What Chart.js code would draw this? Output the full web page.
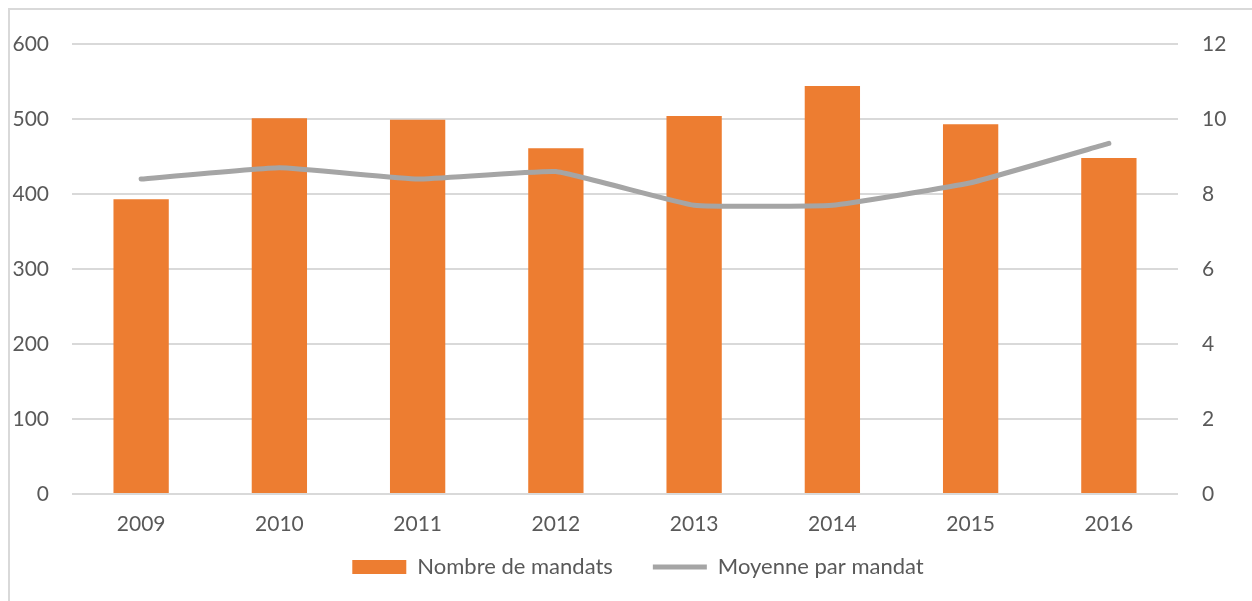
<!DOCTYPE html>
<html>
<head>
<meta charset="utf-8">
<title>Nombre de mandats</title>
<script src="https://cdn.jsdelivr.net/npm/chart.js"></script>
<style>
  html, body { margin: 0; padding: 0; background: #fff; overflow: hidden; }
  .frame { position: absolute; left: 8px; top: 8px; width: 1400px; height: 800px; border: 2px solid #d9d9d9; box-sizing: border-box; }
  .wrap { position: absolute; left: 0; top: 0; width: 1252px; height: 601px; }
</style>
</head>
<body>
<div class="frame"></div>
<div class="wrap"><canvas id="chart"></canvas></div>
<script>
// données
const annees = ['2009', '2010', '2011', '2012', '2013', '2014', '2015', '2016'];
const nombreMandats = [393, 501, 499, 461, 504, 544, 493, 448];
const moyenneParMandat = [8.4, 8.7, 8.4, 8.6, 7.7, 7.7, 8.3, 9.35];

const police = "Lato, 'Open Sans', sans-serif";
const gris = '#595959';
const padLegende = 40;

// place la légende plus haut que ce que calcule la mise en page
const legendeEnPlace = {
  id: 'legendeEnPlace',
  afterLayout(chart) {
    const lg = chart.legend;
    const h = lg.bottom - lg.top;
    lg.top = 567 - 11 - padLegende;
    lg.bottom = lg.top + h;
    lg.left += 12;
    lg.right += 12;
  }
};

const ctx = document.getElementById('chart').getContext('2d');
const chart = new Chart(ctx, {
  type: 'bar',
  data: {
    labels: annees,
    datasets: [{
      label: 'Nombre de mandats',
      data: nombreMandats,
      backgroundColor: '#ED7D31',
      borderWidth: 0,
      barPercentage: 0.4,
      categoryPercentage: 1,
      pointStyle: 'rect',
      yAxisID: 'y',
      order: 1
    }, {
      type: 'line',
      label: 'Moyenne par mandat',
      data: moyenneParMandat,
      borderColor: '#A5A5A5',
      backgroundColor: '#A5A5A5',
      borderWidth: 5,
      borderCapStyle: 'round',
      borderJoinStyle: 'round',
      tension: 0.1,
      pointRadius: 0,
      pointHoverRadius: 0,
      pointStyle: 'line',
      yAxisID: 'y1',
      order: 0
    }]
  },
  options: {
    responsive: true,
    maintainAspectRatio: false,
    animation: false,
    layout: { padding: { top: 44, bottom: 601 - 44 - 450 - 44 - (22 + padLegende + 10), left: 0, right: 0 } },
    plugins: {
      tooltip: { enabled: false },
      legend: {
        position: 'bottom',
        labels: {
          usePointStyle: true,
          pointStyleWidth: 54,
          boxHeight: 14,
          padding: padLegende,
          color: gris,
          font: { family: police, size: 22 },
          sort: (a, b) => a.datasetIndex - b.datasetIndex
        }
      }
    },
    scales: {
      x: {
        grid: { display: false, drawTicks: false },
        border: { display: false },
        ticks: { color: gris, padding: 18, font: { family: police, size: 21 } },
        afterFit: (s) => { s.height = 44; }
      },
      y: {
        position: 'left',
        min: 0,
        max: 600,
        grid: { color: '#d9d9d9', lineWidth: 2, drawTicks: false },
        border: { display: false },
        ticks: { stepSize: 100, color: gris, padding: 23, font: { family: police, size: 21 } },
        afterFit: (s) => { s.width = 72; }
      },
      y1: {
        position: 'right',
        min: 0,
        max: 12,
        grid: { display: false, drawTicks: false },
        border: { display: false },
        ticks: { stepSize: 2, color: gris, padding: 24, font: { family: police, size: 21 } },
        afterFit: (s) => { s.width = 74; }
      }
    }
  },
  plugins: [legendeEnPlace]
});
</script>
</body>
</html>
